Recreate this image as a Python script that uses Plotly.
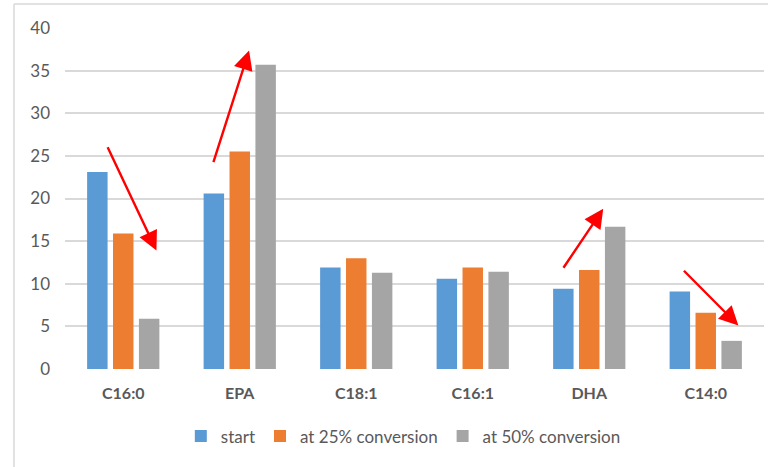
import plotly.graph_objects as go

categories = ["C16:0", "EPA", "C18:1", "C16:1", "DHA", "C14:0"]
start = [23.1, 20.6, 11.9, 10.6, 9.4, 9.1]
conv25 = [15.9, 25.5, 13.0, 11.9, 11.6, 6.6]
conv50 = [5.9, 35.7, 11.3, 11.4, 16.7, 3.3]
series_names = ["start", "at 25% conversion", "at 50% conversion"]
colors = ["#5B9BD5", "#ED7D31", "#A5A5A5"]

# red trend arrows (category index, value): tail -> head
arrow_tail_x = [-0.14, 0.77, 3.77, 4.80]
arrow_tail_y = [26.2, 24.1, 11.7, 11.7]
arrow_head_x = [0.285, 1.08, 4.12, 5.28]
arrow_head_y = [13.9, 37.35, 18.8, 5.1]

W, H = 768, 467
ML, MR, MT, MB = 65, 4, 28, 98
FONT = "Lato, Open Sans, sans-serif"

fig = go.Figure()
for name, vals, c in zip(series_names, [start, conv25, conv50], colors):
    fig.add_trace(go.Bar(x=categories, y=vals, name=name, marker_color=c,
                         marker_line_width=0))

annotations = []
for tx, ty, hx, hy in zip(arrow_tail_x, arrow_tail_y, arrow_head_x, arrow_head_y):
    annotations.append(dict(x=hx, y=hy, ax=tx, ay=ty, xref="x", yref="y",
                            axref="x", ayref="y", text="", showarrow=True,
                            arrowhead=2, arrowsize=1.6, arrowwidth=2.4,
                            arrowcolor="#FF0000"))

pw = W - ML - MR
ph = H - MT - MB
fig.update_layout(
    width=W, height=H,
    margin=dict(l=ML, r=MR, t=MT, b=MB),
    paper_bgcolor="white", plot_bgcolor="white",
    font=dict(family=FONT, color="#595959"),
    barmode="group", bargap=0.333, bargroupgap=0.21,
    showlegend=True,
    legend=dict(orientation="h", x=0.484, xanchor="center", y=-0.198,
                yanchor="middle", font=dict(size=17, color="#595959", family=FONT),
                traceorder="normal", itemwidth=30),
    annotations=annotations,
    shapes=[
        dict(type="line", xref="paper", yref="paper",
             x0=(14 - ML) / pw, x1=(14 - ML) / pw,
             y0=(H - MB - 4) / ph, y1=-(MB + 10) / ph,
             line=dict(color="#D9D9D9", width=1.5)),
        dict(type="line", xref="paper", yref="paper",
             x0=(14 - ML) / pw, x1=(W + 10 - ML) / pw,
             y0=(H - MB - 4) / ph, y1=(H - MB - 4) / ph,
             line=dict(color="#D9D9D9", width=1.5)),
    ],
)
fig.update_xaxes(showgrid=False, showline=False, ticks="",
                 tickfont=dict(size=16, color="#595959", family=FONT,
                               weight="bold"),
                 ticklabelstandoff=13)
fig.update_yaxes(range=[0, 40], dtick=5, showgrid=True, gridcolor="#D9D9D9",
                 gridwidth=1.5, zeroline=False, showline=False, ticks="",
                 tickfont=dict(size=17, color="#595959", family=FONT),
                 ticklabelstandoff=14)

fig.write_html("out.html")
